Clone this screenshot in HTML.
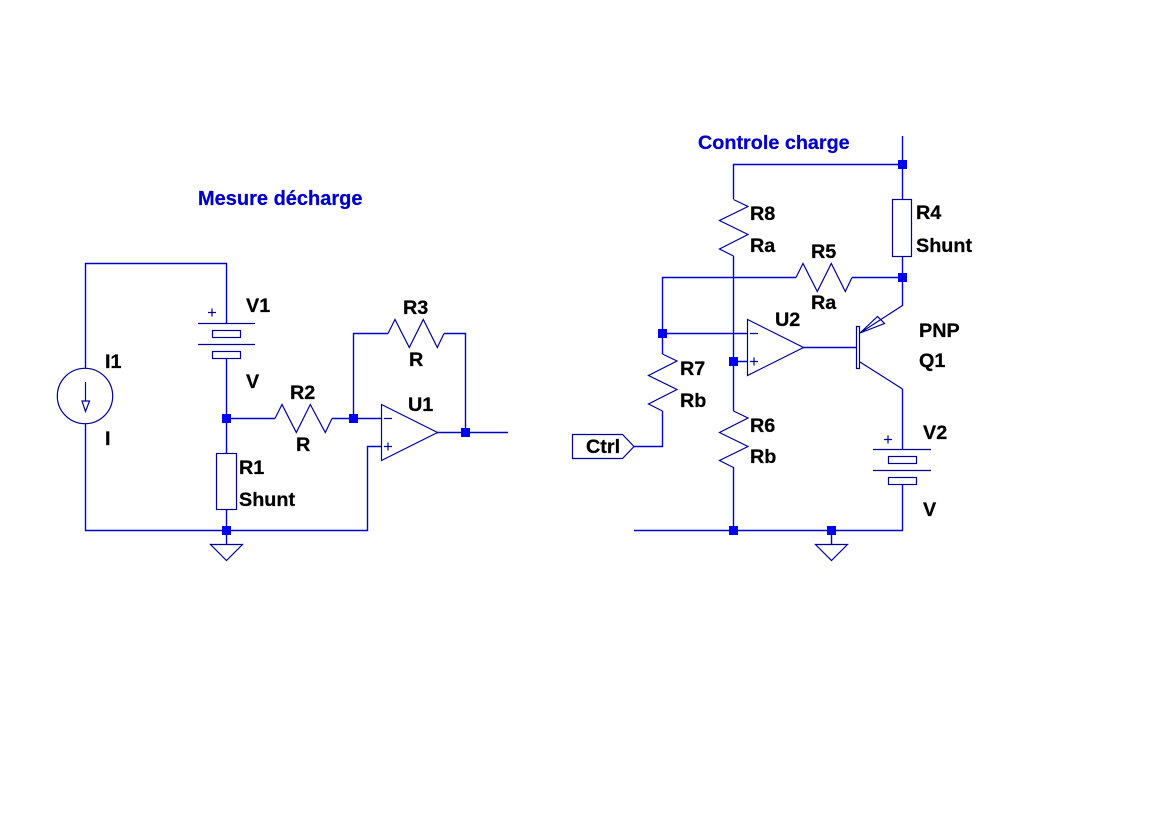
<!DOCTYPE html>
<html><head><meta charset="utf-8"><style>
html,body{margin:0;padding:0;background:#fff;width:1166px;height:823px;overflow:hidden}
svg{display:block}
text{font-family:"Liberation Sans",sans-serif;font-weight:bold;font-size:19.8px;fill:#000;stroke:#000;stroke-width:.25}
.w{fill:none;stroke:#0000d0;stroke-width:1.4}
.c{fill:none;stroke:#000098;stroke-width:1.2}
.j{fill:#0000f0;stroke:none;shape-rendering:crispEdges}
</style></head><body>
<svg width="1166" height="823" viewBox="0 0 1166 823" xmlns="http://www.w3.org/2000/svg">
<!-- wires left -->
<path class="w" d="M85.5 368V263.5H226.5V323.5M85.5 424V530.5H367.5V446.5H381M226.5 358V453M226.5 509V544M226.5 418.5H275M332 418.5H381M353.5 418.5V333.5H388M444 333.5H465.5V432.5M437 432.5H508"/>
<!-- wires right -->
<path class="w" d="M902.5 136V199M902.5 257V306M902.5 389V449M902.5 484V530.5H634M733.5 530.5V467M733.5 411V256M733.5 199V164.5H902.5M662.5 354V277.5H796M852 277.5H902.5M662.5 333.5H747M733.5 361.5H747M803 347.5H856M662.5 411V446.5H634M831.5 530.5V544"/>
<!-- V1 -->
<g class="c">
<path d="M198 323.5H255M198 344.5H255"/>
<rect x="212.5" y="330.5" width="28" height="7"/>
<rect x="212.5" y="351.5" width="28" height="7"/>
<path d="M208 312.5H216M212 308.5V316.5"/>
<!-- I1 -->
<circle cx="85" cy="396" r="27.7"/>
<path d="M85.5 382V401M82 401H89.5L85.5 411.5Z"/>
<!-- R1 -->
<rect x="216.5" y="453.5" width="20" height="56"/>
<!-- grounds -->
<path d="M210.5 544.5H242.5L226.5 560.5Z"/>
<path d="M815.5 544.5H847.5L831.5 560.5Z"/>
<!-- R2 R3 -->
<path d="M275 418.5L282 404.5L296.3 432.5L310.3 404.5L325.3 432.5L332 418.5"/>
<path d="M388 333.5L395 319.5L409.3 347.5L423.3 319.5L437.3 347.5L444 333.5"/>
<!-- U1 -->
<path d="M381.5 404.5V460.5L437.5 432.5Z"/>
<path d="M384 418.5H392M384 446.5H392M388 442.5V450.5"/>
<!-- R4 -->
<rect x="892.5" y="199.5" width="19" height="57"/>
<!-- R5 -->
<path d="M796 277.5L803 263.5L817.3 291.5L831.3 263.5L845.3 291.5L852 277.5"/>
<!-- R8 -->
<path d="M733.5 199.5L748 206.5L719.5 220.5L748 234.5L719.5 249L733.5 256"/>
<!-- R6 -->
<path d="M733.5 411L748 418L719.5 432.5L748 446.5L719.5 460.5L733.5 467.5"/>
<!-- R7 -->
<path d="M662.5 354L677 361L648.5 375.5L677 389.5L648.5 404L662.5 411"/>
<!-- Ctrl -->
<path d="M634 446.5L622.5 434.5H572.5V458.5H622.5Z"/>
<!-- U2 -->
<path d="M747.5 319.5V375.5L803.5 347.5Z"/>
<path d="M750 333.5H758M750 361.5H758M754 357.5V365.5"/>
<!-- Q1 -->
<rect x="856.5" y="326.5" width="3" height="42"/>
<path d="M902.5 305.5L860 333M860 333L877.5 316.5L884.5 323.5Z"/>
<path d="M860 362L902.5 389"/>
<!-- V2 -->
<path d="M873 449.5H931M873 470.5H931"/>
<rect x="888.5" y="456.5" width="28" height="7"/>
<rect x="888.5" y="477.5" width="28" height="7"/>
<path d="M884 439.5H892M888 435.5V443.5"/>
</g>
<!-- junctions -->
<g class="j">
<rect x="222" y="414" width="9" height="9"/>
<rect x="222" y="526" width="9" height="9"/>
<rect x="349" y="414" width="9" height="9"/>
<rect x="461" y="428" width="9" height="9"/>
<rect x="898" y="160" width="9" height="9"/>
<rect x="898" y="273" width="9" height="9"/>
<rect x="658" y="329" width="9" height="9"/>
<rect x="729" y="357" width="9" height="9"/>
<rect x="729" y="526" width="9" height="9"/>
<rect x="827" y="526" width="9" height="9"/>
</g>
<!-- labels -->
<text x="198" y="205" style="fill:#0000c8;stroke:#0000c8;font-size:20px">Mesure décharge</text>
<text x="698" y="149" style="fill:#0000c8;stroke:#0000c8">Controle charge</text>
<text x="246" y="312">V1</text>
<text x="246" y="388">V</text>
<text x="105" y="368">I1</text>
<text x="105" y="445">I</text>
<text x="239" y="474">R1</text>
<text x="239" y="506">Shunt</text>
<text x="403" y="314">R3</text>
<text x="409" y="366">R</text>
<text x="290" y="399">R2</text>
<text x="296" y="451">R</text>
<text x="408" y="411">U1</text>
<text x="586" y="453">Ctrl</text>
<text x="680" y="375">R7</text>
<text x="680" y="407">Rb</text>
<text x="750" y="432">R6</text>
<text x="750" y="463">Rb</text>
<text x="775" y="326">U2</text>
<text x="750" y="220">R8</text>
<text x="750" y="252">Ra</text>
<text x="811" y="258">R5</text>
<text x="811" y="309">Ra</text>
<text x="916" y="219">R4</text>
<text x="916" y="252">Shunt</text>
<text x="919" y="337">PNP</text>
<text x="919" y="367">Q1</text>
<text x="923" y="439">V2</text>
<text x="923" y="516">V</text>
</svg>
</body></html>
